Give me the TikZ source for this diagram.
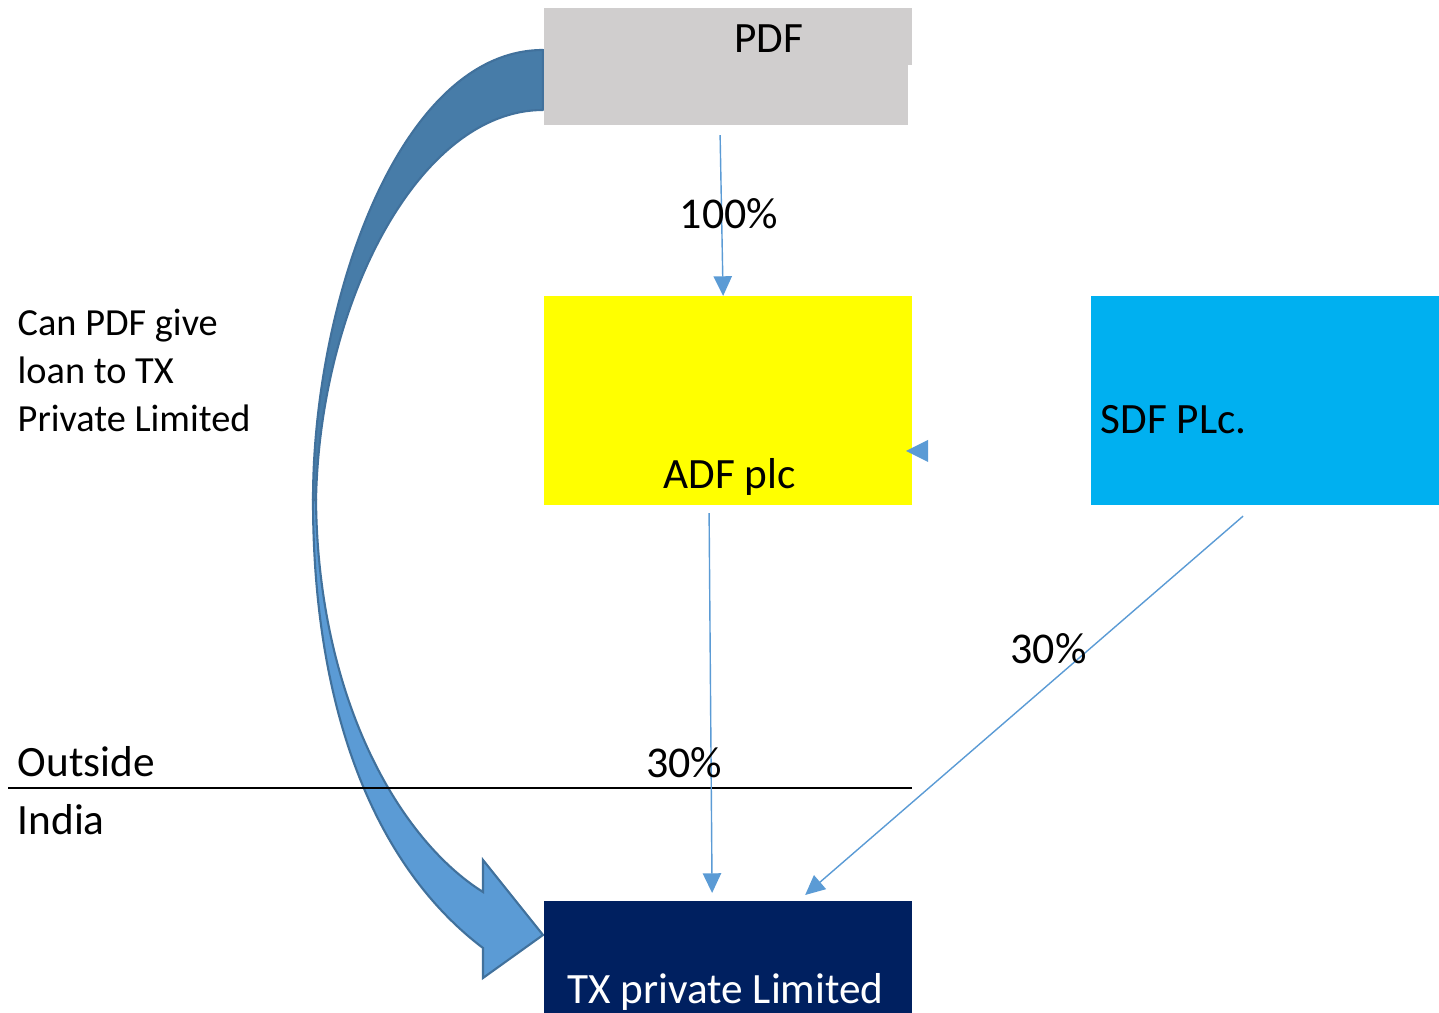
\documentclass[tikz,border=0pt]{standalone}
\usepackage{fontspec}
\setmainfont{Carlito}
\usepackage{tikz}
\usetikzlibrary{positioning,arrows.meta}

\definecolor{pdfgray}{HTML}{D0CECE}
\definecolor{adfyellow}{HTML}{FFFF00}
\definecolor{sdfcyan}{HTML}{00B0F0}
\definecolor{txnavy}{HTML}{002060}
\definecolor{linkblue}{HTML}{5B9BD5}
\definecolor{bandback}{HTML}{477CA8}
\definecolor{bandedge}{HTML}{41719C}

\begin{document}
\begin{tikzpicture}[x=0.01cm, y=-0.01cm,
				box/.style={inner sep=0pt, outer sep=0pt, anchor=north west},
				boxtext/.style={font=\fontsize{12.3}{15}\selectfont, inner sep=0pt, anchor=base},
				pct/.style={font=\fontsize{12.5}{15}\selectfont, inner sep=0pt, anchor=base},
				link/.style={draw=linkblue, line width=0.4pt, -{Triangle[length=5.6pt,width=5.2pt]}},
				]
				\useasboundingbox (0,0) rectangle (1439,1013);

					%Curved arrow
				\filldraw[fill=bandback, draw=bandedge, line width=0.6pt, line join=round]
					(543,50) .. controls (400,50) and (313,300) .. (313,500)
					-- (316,500) .. controls (320,300) and (420,110) .. (543,110) -- cycle;
				\filldraw[fill=linkblue, draw=bandedge, line width=0.6pt, line join=miter]
					(313,500) .. controls (313,720) and (380,870) .. (483,948)
					-- (483,978) -- (543,935) -- (483,860) -- (483,892)
					.. controls (400,840) and (318,700) .. (316,500) -- cycle;

					%Nodes
				\node[box, fill=pdfgray, minimum width=3.64cm, minimum height=1.17cm]	(pdf)	at (544,8)	{};
				\fill[pdfgray] (pdf.north east) rectangle ++(4,57);
				\node[box, fill=adfyellow, minimum width=3.68cm, minimum height=2.09cm]	(adf)	at (544,296)	{};
				\node[box, fill=sdfcyan, minimum width=3.48cm, minimum height=2.09cm]	(sdf)	at (1091,296)	{};
				\node[box, fill=txnavy, minimum width=3.68cm, minimum height=1.12cm]	(tx)	at (544,901)	{};

				\node[boxtext]					(pdflbl)	at (769,53)	{PDF};
				\node[boxtext]					(adflbl)	at (729.5,489)	{ADF plc};
				\node[boxtext, anchor=base west]		(sdflbl)	at (1100,434)	{SDF PLc.};
				\node[boxtext, text=white]			(txlbl)	at (725.5,1003)	{TX private Limited};

				\node[font=\fontsize{10.9}{13.7}\selectfont, align=left, inner sep=0pt, anchor=north west]
					(question) at (17,308) {Can PDF give\\loan to TX\\Private Limited};
				\node[boxtext, anchor=base west]		(outside)	at (17,777)	{Outside};
				\node[boxtext, anchor=base west]		(india)	[below=0.57cm of outside.base west, anchor=base west]	{India};

				%Lines
				\coordinate (border) at (8,788);
				\draw[line width=0.8pt] (border) -- (border -| adf.east);

				\draw[link]	([xshift=-0.06cm, yshift=-0.1cm]pdf.south) -- ([xshift=-0.05cm]adf.north);
				\draw[link]	([xshift=-0.19cm, yshift=-0.08cm]adf.south) -- ([xshift=-0.16cm, yshift=0.08cm]tx.north);
				\draw[link]	([xshift=-0.22cm, yshift=-0.11cm]sdf.south) -- ([xshift=0.77cm, yshift=0.06cm]tx.north);
				\fill[linkblue] (906,451) -- (928,440) -- (928,462) -- cycle;

				\node[pct]	(ownpdf)	at (729,229)	{100\%};
				\node[pct]	(ownadf)	at (684,778)	{30\%};
				\node[pct]	(ownsdf)	at (1048.5,664)	{30\%};
			\end{tikzpicture}
\end{document}
